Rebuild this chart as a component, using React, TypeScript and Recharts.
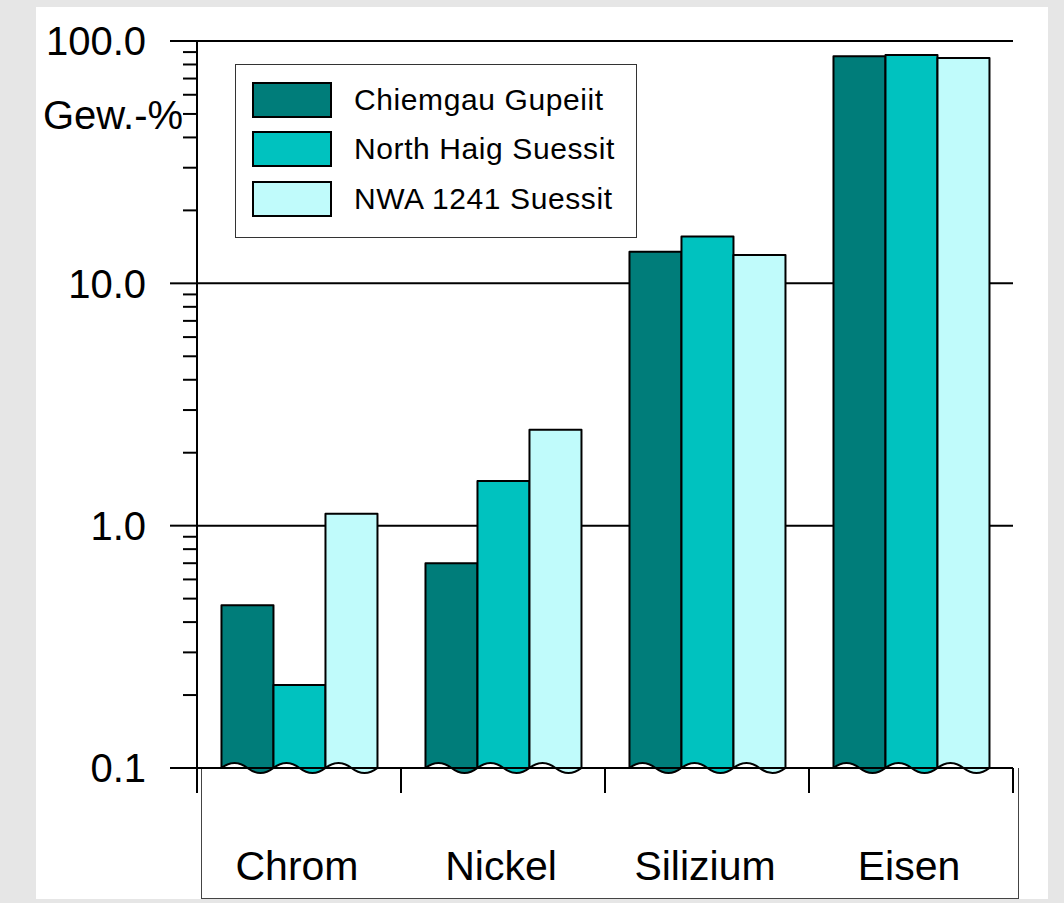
import React from 'react';
import { BarChart, Bar, XAxis, YAxis, CartesianGrid, Legend } from 'recharts';

// Gehalte in Gew.-% (log. Skala)
const elements = ['Chrom', 'Nickel', 'Silizium', 'Eisen'];
const chiemgauGupeiit = [0.47, 0.7, 13.5, 86.5];
const northHaigSuessit = [0.22, 1.53, 15.6, 87.5];
const nwa1241Suessit = [1.12, 2.49, 13.1, 85.0];

const majorTicks = [0.1, 1, 10, 100];
const minorTicks = [
  0.2, 0.3, 0.4, 0.5, 0.6, 0.7, 0.8, 0.9,
  2, 3, 4, 5, 6, 7, 8, 9,
  20, 30, 40, 50, 60, 70, 80, 90,
];
const tickLabels: Record<number, string> = { 0.1: '0.1', 1: '1.0', 10: '10.0', 100: '100.0' };

const series = [
  { key: 'chiemgau', name: 'Chiemgau Gupeiit', color: '#007d7a', values: chiemgauGupeiit },
  { key: 'northHaig', name: 'North Haig Suessit', color: '#00c2bf', values: northHaigSuessit },
  { key: 'nwa1241', name: 'NWA 1241 Suessit', color: '#c0fbfb', values: nwa1241Suessit },
];

const data = elements.map((name, i) => {
  const row: any = { name };
  series.forEach((s) => { row[s.key] = s.values[i]; });
  return row;
});

const FONT = '"Liberation Sans", Arial, Helvetica, sans-serif';
const W = 1064;
const H = 903;
const AXIS_X = 197;
const AXIS_Y = 768;
const BAND = (1013 - AXIS_X) / elements.length;

const YTick = (props: any) => {
  const { y, payload } = props;
  const major = majorTicks.includes(payload.value);
  return (
    <g>
      <line x1={AXIS_X - (major ? 27 : 14)} x2={AXIS_X} y1={y} y2={y} stroke="#000" strokeWidth={2} />
      {major && (
        <text x={146} y={y} dy="0.36em" textAnchor="end" fontSize={40} fontFamily={FONT} fill="#000">
          {tickLabels[payload.value]}
        </text>
      )}
    </g>
  );
};

const XTick = (props: any) => {
  const { x, payload, index } = props;
  const last = index === elements.length - 1;
  return (
    <g>
      <line x1={x - BAND / 2} x2={x - BAND / 2} y1={AXIS_Y} y2={AXIS_Y + 25} stroke="#000" strokeWidth={2} />
      {last && (
        <line x1={x + BAND / 2} x2={x + BAND / 2} y1={AXIS_Y} y2={AXIS_Y + 25} stroke="#000" strokeWidth={2} />
      )}
      <text x={x - 2} y={AXIS_Y + 112} textAnchor="middle" fontSize={41} fontFamily={FONT} fill="#000">
        {payload.value}
      </text>
    </g>
  );
};

// Balken mit gewelltem Fuss (Achsenbruch)
const WavyBar = (props: any) => {
  const { x, y, width, height, fill } = props;
  if (width == null || height == null) return null;
  const yb = y + height;
  const a = 5;
  const d = `M${x},${yb} L${x},${y} L${x + width},${y} L${x + width},${yb}
    Q${x + width * 0.75},${yb + 2 * a} ${x + width * 0.5},${yb}
    Q${x + width * 0.25},${yb - 2 * a} ${x},${yb} Z`;
  return <path d={d} fill={fill} stroke="#000" strokeWidth={2} strokeLinejoin="round" />;
};

const LegendBox = ({ payload }: any) => {
  const items = [...(payload || [])].sort(
    (a: any, b: any) =>
      series.findIndex((s) => s.name === a.value) - series.findIndex((s) => s.name === b.value)
  );
  return (
    <div
      style={{
        width: 402,
        height: 174,
        boxSizing: 'border-box',
        border: '1px solid #333',
        background: '#fff',
        padding: '10px 0 0 16px',
        fontFamily: FONT,
      }}
    >
      {items.map((p: any, i: number) => (
        <div key={`leg-${i}`} style={{ display: 'flex', alignItems: 'center', height: 49.5 }}>
          <span
            style={{
              display: 'inline-block',
              width: 80,
              height: 36,
              boxSizing: 'border-box',
              background: p.color,
              border: '2px solid #000',
            }}
          />
          <span style={{ marginLeft: 22, fontSize: 30, letterSpacing: 0.6, color: '#000', whiteSpace: 'nowrap' }}>
            {p.value}
          </span>
        </div>
      ))}
    </div>
  );
};

export default function App() {
  return (
    <div style={{ position: 'absolute', left: 0, top: 0, width: W, height: H, background: '#e6e6e6', overflow: 'hidden' }}>
      <div style={{ position: 'absolute', left: 36, top: 7, width: 1012, height: 892, background: '#fff' }} />
      <div
        style={{
          position: 'absolute',
          left: 201,
          top: AXIS_Y,
          width: 818,
          height: 131,
          boxSizing: 'border-box',
          borderLeft: '1px solid #444',
          borderRight: '1px solid #444',
          borderBottom: '1px solid #444',
        }}
      />
      <div style={{ position: 'absolute', left: 0, top: 0 }}>
        <BarChart
          width={W}
          height={H}
          data={data}
          margin={{ top: 41, right: 51, bottom: 0, left: 0 }}
          barCategoryGap="12%"
          barGap={0}
        >
          <CartesianGrid vertical={false} horizontalValues={[1, 10, 100]} stroke="#000" strokeWidth={2} />
          <XAxis
            dataKey="name"
            height={135}
            tickLine={false}
            tickSize={0}
            axisLine={{ stroke: '#000', strokeWidth: 2 }}
            tick={<XTick />}
            interval={0}
          />
          <YAxis
            scale="log"
            domain={[0.1, 100]}
            ticks={[...majorTicks, ...minorTicks]}
            interval={0}
            width={AXIS_X}
            tickLine={false}
            axisLine={{ stroke: '#000', strokeWidth: 2 }}
            tick={<YTick />}
            label={{
              content: () => (
                <text x={43} y={129} fontSize={40} fontFamily={FONT} fill="#000">
                  Gew.-%
                </text>
              ),
            }}
          />
          <YAxis
            yAxisId="frame"
            orientation="right"
            width={0}
            tick={false}
            tickLine={false}
            axisLine={{ stroke: '#000', strokeWidth: 2 }}
          />
          <Legend
            layout="vertical"
            align="center"
            verticalAlign="middle"
            wrapperStyle={{ left: 235, top: 64, width: 402, height: 174 }}
            content={<LegendBox />}
          />
          {series.map((s) => (
            <Bar
              key={s.key}
              dataKey={s.key}
              name={s.name}
              fill={s.color}
              shape={<WavyBar />}
              isAnimationActive={false}
            />
          ))}
        </BarChart>
      </div>
    </div>
  );
}
